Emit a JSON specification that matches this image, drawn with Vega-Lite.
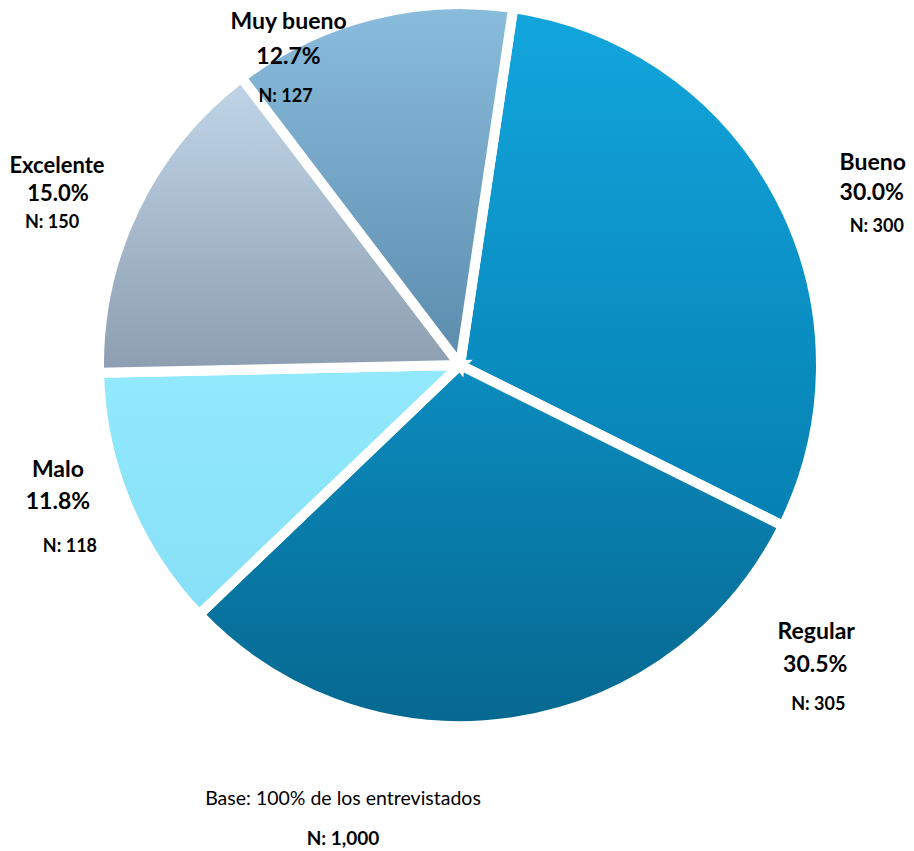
{
  "$schema": "https://vega.github.io/schema/vega-lite/v6.json",
  "width": 914,
  "height": 730,
  "autosize": "none",
  "padding": {"left": 3, "top": 0, "right": 0, "bottom": 121},
  "background": "white",
  "config": {"view": {"stroke": null}},
  "title": {
    "text": "Base: 100% de los entrevistados",
    "subtitle": "N: 1,000",
    "orient": "bottom",
    "anchor": "middle",
    "dx": -117,
    "offset": 44,
    "font": "Lato",
    "fontSize": 19.5,
    "fontWeight": "normal",
    "color": "black",
    "subtitleFont": "Lato",
    "subtitleFontSize": 19,
    "subtitleFontWeight": "bold",
    "subtitleColor": "black",
    "subtitlePadding": 20
  },
  "data": {
    "values": [
      {"category": "Bueno", "share": 0.300, "n": 300},
      {"category": "Regular", "share": 0.305, "n": 305},
      {"category": "Malo", "share": 0.118, "n": 118},
      {"category": "Excelente", "share": 0.150, "n": 150},
      {"category": "Muy bueno", "share": 0.127, "n": 127}
    ]
  },
  "transform": [
    {"stack": "share", "groupby": [], "as": ["s0", "s1"]},
    {"calculate": "(datum.s0 + datum.s1) / 2", "as": "mid"},
    {"calculate": "'N: ' + datum.n", "as": "nlabel"}
  ],
  "encoding": {
    "theta": {"field": "s0", "type": "quantitative", "scale": {"domain": [0, 1], "range": [0.148, 6.431]}}
  },
  "layer": [
    {"transform": [{"filter": "datum.category === 'Bueno'"}],
     "mark": {"type": "arc", "outerRadius": 361, "stroke": "white", "strokeWidth": 10, "strokeJoin": "miter",
       "fill": {"gradient": "linear", "x1": 0, "y1": 0, "x2": 0, "y2": 1, "stops": [{"offset": 0, "color": "#12A6DD"}, {"offset": 1, "color": "#0680B2"}]}},
     "encoding": {"theta2": {"field": "s1"}}},
    {"transform": [{"filter": "datum.category === 'Regular'"}],
     "mark": {"type": "arc", "outerRadius": 361, "stroke": "white", "strokeWidth": 10, "strokeJoin": "miter",
       "fill": {"gradient": "linear", "x1": 0, "y1": 0, "x2": 0, "y2": 1, "stops": [{"offset": 0, "color": "#0B8CBF"}, {"offset": 1, "color": "#066890"}]}},
     "encoding": {"theta2": {"field": "s1"}}},
    {"transform": [{"filter": "datum.category === 'Malo'"}],
     "mark": {"type": "arc", "outerRadius": 361, "stroke": "white", "strokeWidth": 10, "strokeJoin": "miter",
       "fill": {"gradient": "linear", "x1": 0, "y1": 0, "x2": 0, "y2": 1, "stops": [{"offset": 0, "color": "#93E9FC"}, {"offset": 1, "color": "#86E0F7"}]}},
     "encoding": {"theta2": {"field": "s1"}}},
    {"transform": [{"filter": "datum.category === 'Excelente'"}],
     "mark": {"type": "arc", "outerRadius": 361, "stroke": "white", "strokeWidth": 10, "strokeJoin": "miter",
       "fill": {"gradient": "linear", "x1": 0, "y1": 0, "x2": 0, "y2": 1, "stops": [{"offset": 0, "color": "#C0D6E8"}, {"offset": 1, "color": "#8C9EB0"}]}},
     "encoding": {"theta2": {"field": "s1"}}},
    {"transform": [{"filter": "datum.category === 'Muy bueno'"}],
     "mark": {"type": "arc", "outerRadius": 361, "stroke": "white", "strokeWidth": 10, "strokeJoin": "miter",
       "fill": {"gradient": "linear", "x1": 0, "y1": 0, "x2": 0, "y2": 1, "stops": [{"offset": 0, "color": "#8ABCDD"}, {"offset": 1, "color": "#5C8CAC"}]}},
     "encoding": {"theta2": {"field": "s1"}}},

    {"transform": [{"filter": "datum.category === 'Bueno'"}],
     "encoding": {"theta": {"field": "mid", "type": "quantitative"}},
     "layer": [
       {"mark": {"type": "text", "radius": 453, "dx": 11, "dy": 7, "font": "Lato", "fontSize": 23, "fontWeight": "bold", "align": "center", "baseline": "middle", "color": "black"}, "encoding": {"text": {"field": "category"}}},
       {"mark": {"type": "text", "radius": 453, "dx": 10, "dy": 37, "font": "Lato", "fontSize": 23, "fontWeight": "bold", "align": "center", "baseline": "middle", "color": "black"}, "encoding": {"text": {"field": "share", "type": "quantitative", "format": ".1%"}}},
       {"mark": {"type": "text", "radius": 453, "dx": 15, "dy": 71, "font": "Lato", "fontSize": 18, "fontWeight": "bold", "align": "center", "baseline": "middle", "color": "black"}, "encoding": {"text": {"field": "nlabel"}}}
     ]},
    {"transform": [{"filter": "datum.category === 'Regular'"}],
     "encoding": {"theta": {"field": "mid", "type": "quantitative"}},
     "layer": [
       {"mark": {"type": "text", "radius": 455, "dx": 288, "dy": -183, "font": "Lato", "fontSize": 23, "fontWeight": "bold", "align": "center", "baseline": "middle", "color": "black"}, "encoding": {"text": {"field": "category"}}},
       {"mark": {"type": "text", "radius": 455, "dx": 287, "dy": -150, "font": "Lato", "fontSize": 23, "fontWeight": "bold", "align": "center", "baseline": "middle", "color": "black"}, "encoding": {"text": {"field": "share", "type": "quantitative", "format": ".1%"}}},
       {"mark": {"type": "text", "radius": 455, "dx": 290, "dy": -110, "font": "Lato", "fontSize": 18, "fontWeight": "bold", "align": "center", "baseline": "middle", "color": "black"}, "encoding": {"text": {"field": "nlabel"}}}
     ]},
    {"transform": [{"filter": "datum.category === 'Malo'"}],
     "encoding": {"theta": {"field": "mid", "type": "quantitative"}},
     "layer": [
       {"mark": {"type": "text", "radius": 420, "dx": -14, "dy": -56, "font": "Lato", "fontSize": 23, "fontWeight": "bold", "align": "center", "baseline": "middle", "color": "black"}, "encoding": {"text": {"field": "category"}}},
       {"mark": {"type": "text", "radius": 420, "dx": -14, "dy": -24, "font": "Lato", "fontSize": 23, "fontWeight": "bold", "align": "center", "baseline": "middle", "color": "black"}, "encoding": {"text": {"field": "share", "type": "quantitative", "format": ".1%"}}},
       {"mark": {"type": "text", "radius": 420, "dx": -2, "dy": 21, "font": "Lato", "fontSize": 18, "fontWeight": "bold", "align": "center", "baseline": "middle", "color": "black"}, "encoding": {"text": {"field": "nlabel"}}}
     ]},
    {"transform": [{"filter": "datum.category === 'Excelente'"}],
     "encoding": {"theta": {"field": "mid", "type": "quantitative"}},
     "layer": [
       {"mark": {"type": "text", "radius": 443, "dx": -4, "dy": -7, "font": "Lato", "fontSize": 22, "fontWeight": "bold", "align": "center", "baseline": "middle", "color": "black"}, "encoding": {"text": {"field": "category"}}},
       {"mark": {"type": "text", "radius": 443, "dx": -3, "dy": 21, "font": "Lato", "fontSize": 22, "fontWeight": "bold", "align": "center", "baseline": "middle", "color": "black"}, "encoding": {"text": {"field": "share", "type": "quantitative", "format": ".1%"}}},
       {"mark": {"type": "text", "radius": 443, "dx": -9, "dy": 50, "font": "Lato", "fontSize": 18, "fontWeight": "bold", "align": "center", "baseline": "middle", "color": "black"}, "encoding": {"text": {"field": "nlabel"}}}
     ]},
    {"transform": [{"filter": "datum.category === 'Muy bueno'"}],
     "encoding": {"theta": {"field": "mid", "type": "quantitative"}},
     "layer": [
       {"mark": {"type": "text", "radius": 368, "dx": -80, "dy": 13.5, "font": "Lato", "fontSize": 23, "fontWeight": "bold", "align": "center", "baseline": "middle", "color": "black"}, "encoding": {"text": {"field": "category"}}},
       {"mark": {"type": "text", "radius": 368, "dx": -80, "dy": 48.5, "font": "Lato", "fontSize": 23, "fontWeight": "bold", "align": "center", "baseline": "middle", "color": "black"}, "encoding": {"text": {"field": "share", "type": "quantitative", "format": ".1%"}}},
       {"mark": {"type": "text", "radius": 368, "dx": -83, "dy": 88, "font": "Lato", "fontSize": 18, "fontWeight": "bold", "align": "center", "baseline": "middle", "color": "black"}, "encoding": {"text": {"field": "nlabel"}}}
     ]}
  ]
}
